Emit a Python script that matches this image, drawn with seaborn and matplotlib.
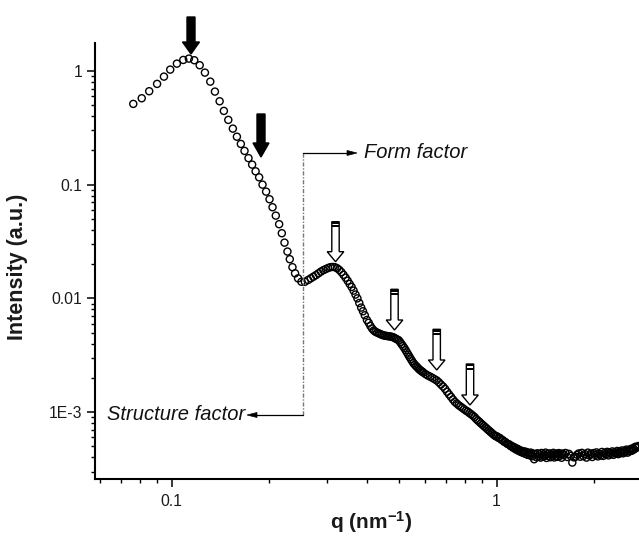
import numpy as np
import pandas as pd
import matplotlib
matplotlib.use("Agg")
import matplotlib.pyplot as plt
from matplotlib.patches import Polygon, Rectangle
from matplotlib.lines import Line2D
from matplotlib.ticker import FixedLocator, NullFormatter
import seaborn as sns

# ---------------- data ----------------
q_low = [0.0762, 0.0809, 0.0853, 0.0902, 0.0947, 0.0990, 0.1038, 0.1086, 0.1130, 0.1174,
         0.1220, 0.1266, 0.1315, 0.1359, 0.1405, 0.1448, 0.1494, 0.1543, 0.1588, 0.1633,
         0.1676, 0.1724, 0.1769, 0.1813, 0.1859, 0.1904, 0.1953, 0.2001, 0.2044, 0.2092,
         0.2142, 0.2183, 0.2225, 0.2272, 0.2310, 0.2354, 0.2398, 0.2449, 0.2509, 0.2570,
         0.2629]
i_low = [0.513, 0.575, 0.663, 0.769, 0.891, 1.027, 1.159, 1.249, 1.283, 1.242,
         1.122, 0.966, 0.805, 0.658, 0.541, 0.445, 0.371, 0.311, 0.264, 0.228,
         0.198, 0.171, 0.150, 0.131, 0.116, 0.100, 0.0868, 0.0744, 0.0633, 0.0534,
         0.0449, 0.0374, 0.0309, 0.0258, 0.0221, 0.0188, 0.0166, 0.0150, 0.0140, 0.0140,
         0.0145]

q_mid = [0.268, 0.273, 0.278, 0.283, 0.288, 0.293, 0.298, 0.303, 0.308, 0.313,
         0.318, 0.323, 0.328, 0.333, 0.338, 0.343, 0.348, 0.353, 0.358, 0.363,
         0.368, 0.373, 0.378, 0.383, 0.388, 0.393, 0.399, 0.404, 0.409, 0.414,
         0.419, 0.424, 0.429, 0.434, 0.439, 0.444, 0.449, 0.454, 0.459, 0.464,
         0.469, 0.474, 0.479, 0.484, 0.489, 0.494, 0.500, 0.505, 0.510, 0.515,
         0.520, 0.525, 0.530, 0.535, 0.540, 0.545, 0.550, 0.555, 0.560, 0.565,
         0.570, 0.575, 0.580, 0.585, 0.590, 0.595]
i_mid = [0.0150, 0.0155, 0.0160, 0.0166, 0.0172, 0.0177, 0.0181, 0.0185, 0.0188, 0.0189,
         0.0188, 0.0184, 0.0178, 0.0170, 0.0161, 0.0152, 0.0143, 0.0134, 0.0126, 0.0117,
         0.0108, 0.0100, 0.0091, 0.0083, 0.0077, 0.0071, 0.00646, 0.00610, 0.00572, 0.00542,
         0.00522, 0.00508, 0.00500, 0.00492, 0.00485, 0.00478, 0.00472, 0.00470, 0.00467, 0.00465,
         0.00463, 0.00460, 0.00457, 0.00450, 0.00443, 0.00436, 0.00428, 0.00412, 0.00396, 0.00381,
         0.00366, 0.00350, 0.00334, 0.00319, 0.00305, 0.00292, 0.00280, 0.00269, 0.00261, 0.00254,
         0.00248, 0.00241, 0.00236, 0.00231, 0.00227, 0.00223]

q_shoulder = [0.604, 0.614, 0.624, 0.634, 0.644, 0.654, 0.664, 0.674, 0.684, 0.694,
              0.704, 0.714, 0.724, 0.734, 0.744, 0.754, 0.764, 0.774, 0.784, 0.794,
              0.805, 0.815, 0.825, 0.835, 0.845, 0.855, 0.865, 0.875, 0.885, 0.895,
              0.905, 0.915, 0.925, 0.935, 0.945, 0.955, 0.965, 0.975, 0.985, 0.995]
i_shoulder = [0.00216, 0.00210, 0.00205, 0.00200, 0.00195, 0.00190, 0.00183, 0.00175, 0.00168, 0.00160,
              0.00151, 0.00143, 0.00136, 0.00129, 0.00123, 0.00119, 0.00115, 0.00112, 0.00109, 0.00106,
              0.00103, 0.00101, 0.000981, 0.000957, 0.000931, 0.000905, 0.000871, 0.000845, 0.000821, 0.000796,
              0.000774, 0.000752, 0.000732, 0.000712, 0.000692, 0.000674, 0.000657, 0.000640, 0.000625, 0.000612]

q_high = [1.005, 1.015, 1.025, 1.035, 1.045, 1.055, 1.065, 1.075, 1.085, 1.095,
          1.105, 1.115, 1.125, 1.135, 1.145, 1.155, 1.165, 1.175, 1.185, 1.195,
          1.205, 1.215, 1.225, 1.235, 1.245, 1.255, 1.265, 1.275, 1.285, 1.295,
          1.305, 1.315, 1.325, 1.335, 1.345, 1.355, 1.365, 1.375, 1.385, 1.395,
          1.405, 1.415, 1.425, 1.435, 1.445, 1.455, 1.465, 1.475, 1.485, 1.495,
          1.505, 1.515, 1.525, 1.535, 1.545, 1.555, 1.565, 1.575, 1.585, 1.595,
          1.61, 1.63, 1.65, 1.67, 1.69, 1.71, 1.73, 1.75, 1.77, 1.79,
          1.81, 1.83, 1.85, 1.87, 1.89, 1.91, 1.93, 1.95, 1.97, 1.99,
          2.01, 2.03, 2.05, 2.07, 2.09, 2.11, 2.13, 2.15, 2.17, 2.19,
          2.21, 2.23, 2.25, 2.27, 2.29, 2.31, 2.33, 2.35, 2.37, 2.39,
          2.41, 2.43, 2.45, 2.47, 2.49, 2.51, 2.53, 2.55, 2.57, 2.59,
          2.61, 2.63, 2.65, 2.67, 2.69, 2.71, 2.73]
i_high = [0.000610, 0.000592, 0.000590, 0.000571, 0.000566, 0.000548, 0.000545, 0.000530, 0.000522, 0.000519,
          0.000502, 0.000503, 0.000485, 0.000490, 0.000470, 0.000478, 0.000458, 0.000466, 0.000447, 0.000455,
          0.000438, 0.000452, 0.000430, 0.000446, 0.000421, 0.000438, 0.000417, 0.000440, 0.000409, 0.000431,
          0.000385, 0.000428, 0.000402, 0.000434, 0.000408, 0.000426, 0.000398, 0.000437, 0.000405, 0.000423,
          0.000410, 0.000440, 0.000395, 0.000428, 0.000412, 0.000433, 0.000401, 0.000424, 0.000415, 0.000438,
          0.000399, 0.000427, 0.000410, 0.000431, 0.000404, 0.000436, 0.000413, 0.000425, 0.000397, 0.000432,
          0.000418, 0.000437, 0.000403, 0.000429, 0.000412, 0.000360, 0.000400, 0.000405, 0.000422, 0.000433,
          0.000405, 0.000438, 0.000411, 0.000427, 0.000398, 0.000440, 0.000416, 0.000431, 0.000403, 0.000436,
          0.000420, 0.000442, 0.000408, 0.000430, 0.000415, 0.000446, 0.000412, 0.000438, 0.000425, 0.000447,
          0.000416, 0.000440, 0.000428, 0.000451, 0.000421, 0.000444, 0.000432, 0.000455, 0.000427, 0.000449,
          0.000437, 0.000460, 0.000434, 0.000455, 0.000445, 0.000468, 0.000440, 0.000462, 0.000452, 0.000475,
          0.000458, 0.000481, 0.000470, 0.000495, 0.000485, 0.000492, 0.000503]

x_major = [0.1, 1]
x_major_labels = ["0.1", "1"]
x_minor = [0.06, 0.07, 0.08, 0.09, 0.2, 0.3, 0.4, 0.5, 0.6, 0.7, 0.8, 0.9, 2]
y_major = [1e-3, 1e-2, 0.1, 1]
y_major_labels = ["1E-3", "0.01", "0.1", "1"]

df = pd.DataFrame({
    "q": q_low + q_mid + q_shoulder + q_high,
    "I": i_low + i_mid + i_shoulder + i_high,
})

# ---------------- figure ----------------
sns.set_theme(style="ticks")
plt.rcParams["font.family"] = ["Liberation Sans", "DejaVu Sans"]
plt.rcParams["mathtext.fontset"] = "custom"
plt.rcParams["mathtext.rm"] = "Liberation Sans"
plt.rcParams["mathtext.bf"] = "Liberation Sans:bold"
plt.rcParams["mathtext.it"] = "Liberation Sans:italic"

W, H = 639, 545
fig = plt.figure(figsize=(W / 100, H / 100), dpi=100)
ax = fig.add_axes([95 / W, (H - 479) / H, (W - 95) / W, (479 - 43) / H])

sns.scatterplot(data=df, x="q", y="I", ax=ax, marker="o", s=26,
                facecolors="none", edgecolor="black", linewidth=1.0, legend=False)

ax.set_xscale("log")
ax.set_yscale("log")
ax.set_xlim(0.0581, 2.743)
ax.set_ylim(2.58e-4, 1.76)

ax.xaxis.set_major_locator(FixedLocator(x_major))
ax.set_xticklabels(x_major_labels)
ax.xaxis.set_minor_locator(FixedLocator(x_minor))
ax.xaxis.set_minor_formatter(NullFormatter())
ax.yaxis.set_major_locator(FixedLocator(y_major))
ax.set_yticklabels(y_major_labels)
ymin_ticks = [m * 10.0 ** e for e in (-4, -3, -2, -1, 0) for m in range(2, 10)]
ax.yaxis.set_minor_locator(FixedLocator(ymin_ticks))
ax.yaxis.set_minor_formatter(NullFormatter())

ax.tick_params(which="major", direction="out", length=5.5, width=1.1,
               labelsize=11.3, pad=3.5, color="black", labelcolor="#1a1a1a")
ax.tick_params(which="minor", direction="out", length=3.2, width=1.0, color="black")
ax.tick_params(axis="x", which="major", pad=5)

for side in ("top", "right"):
    ax.spines[side].set_visible(False)
for side in ("left", "bottom"):
    ax.spines[side].set_linewidth(1.5)
    ax.spines[side].set_color("black")

ax.set_xlabel(r"q (nm$^{\mathbf{-1}}$)", fontsize=15, fontweight="bold", color="#1a1a1a")
ax.set_ylabel("Intensity (a.u.)", fontsize=15.5, fontweight="bold", color="#1a1a1a")
ax.xaxis.set_label_coords((371 - 95) / 544, (479 - 509) / 436)
ax.yaxis.set_label_coords((28 - 95) / 544, (479 - 267) / 436)
ax.grid(False)


# ---------------- annotations (in image pixel coordinates) ----------------
def P(x, y):
    return (x / W, 1 - y / H)


def arrow(cx, y0, yh, yt, hw, HW, fc, cap=False):
    pts = [P(cx - hw, y0), P(cx + hw, y0), P(cx + hw, yh), P(cx + HW, yh),
           P(cx, yt), P(cx - HW, yh), P(cx - hw, yh)]
    fig.add_artist(Polygon(pts, closed=True, transform=fig.transFigure,
                           facecolor=fc, edgecolor="black", linewidth=1.0,
                           clip_on=False))
    if cap:
        for a, b in ((y0, y0 + 2.2), (y0 + 3.6, y0 + 5.6)):
            x0, yb = P(cx - hw, b)
            fig.add_artist(Rectangle((x0, yb), 2 * hw / W, (b - a) / H,
                                     transform=fig.transFigure, facecolor="black",
                                     edgecolor="none", clip_on=False))


# filled arrows (structure peaks)
arrow(191, 17, 42, 54, 4.0, 8.5, "black")
arrow(261, 114, 143, 157, 4.0, 8.0, "black")
# hollow arrows (form factor oscillations)
arrow(335.5, 221.7, 251.7, 261.7, 3.7, 8.3, "white", cap=True)
arrow(394.5, 289.3, 320, 330, 3.7, 8.3, "white", cap=True)
arrow(436.7, 329.3, 360, 370, 3.7, 8.3, "white", cap=True)
arrow(470.0, 364, 395, 405, 3.7, 8.3, "white", cap=True)

# divider line and labels
fig.add_artist(Line2D([P(303, 153)[0], P(303, 415)[0]], [P(303, 153)[1], P(303, 415)[1]],
                      transform=fig.transFigure, color="#777777", linewidth=1.0,
                      linestyle=(0, (3, 1.2, 1, 1.2))))
fig.add_artist(Line2D([P(303, 153)[0], P(348, 153)[0]], [P(303, 153)[1], P(348, 153)[1]],
                      transform=fig.transFigure, color="black", linewidth=0.9))
fig.add_artist(Polygon([P(347, 150.5), P(357, 153), P(347, 155.5)], closed=True,
                       transform=fig.transFigure, facecolor="black", edgecolor="black",
                       linewidth=0.5))
fig.add_artist(Line2D([P(303, 415)[0], P(256, 415)[0]], [P(303, 415)[1], P(256, 415)[1]],
                      transform=fig.transFigure, color="black", linewidth=0.9))
fig.add_artist(Polygon([P(257, 412.5), P(247, 415), P(257, 417.5)], closed=True,
                       transform=fig.transFigure, facecolor="black", edgecolor="black",
                       linewidth=0.5))

fig.text(*P(364, 153), "Form factor", fontsize=14.5, fontstyle="italic",
         ha="left", va="center", color="#111111")
fig.text(*P(245, 415), "Structure factor", fontsize=14.5, fontstyle="italic",
         ha="right", va="center", color="#111111")

fig.savefig("out.png", dpi=100)
